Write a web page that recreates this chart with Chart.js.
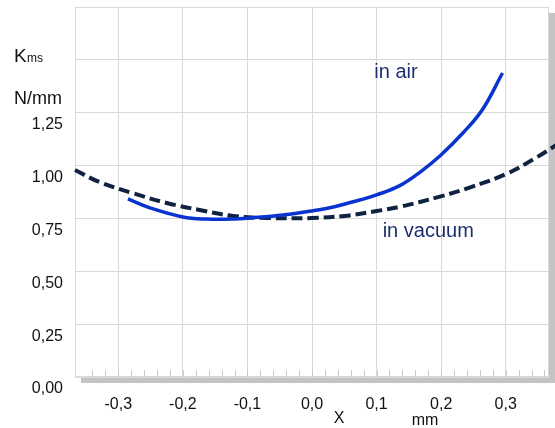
<!DOCTYPE html>
<html>
<head>
<meta charset="utf-8">
<script src="https://cdn.jsdelivr.net/npm/chart.js@4"></script>
<style>
  html, body { margin: 0; padding: 0; background: #fff; }
  #wrap { width: 555px; height: 428px; }
</style>
</head>
<body>
<div id="wrap"><canvas id="kmsChart"></canvas></div>
<script>
// values
const airX = [-0.285, -0.251, -0.2, -0.163, -0.122, -0.096, -0.045, 0.009, 0.033, 0.074, 0.1, 0.136, 0.167, 0.198, 0.234, 0.264, 0.295];
const airY = [0.842, 0.80, 0.757, 0.747, 0.747, 0.752, 0.766, 0.79, 0.804, 0.837, 0.861, 0.905, 0.968, 1.045, 1.155, 1.265, 1.438];

const vacX = [-0.367, -0.329, -0.278, -0.225, -0.174, -0.122, -0.07, 0.0, 0.05, 0.1, 0.136, 0.198, 0.245, 0.302, 0.343, 0.38];
const vacY = [0.979, 0.922, 0.870, 0.823, 0.79, 0.762, 0.752, 0.752, 0.762, 0.785, 0.805, 0.853, 0.897, 0.962, 1.03, 1.10];

const xTicks = [-0.3, -0.2, -0.1, 0.0, 0.1, 0.2, 0.3];
const xTickLabels = ['-0,3', '-0,2', '-0,1', '0,0', '0,1', '0,2', '0,3'];
const yTicks = [0, 0.25, 0.5, 0.75, 1.0, 1.25, 1.5, 1.75];
const yTickLabels = ['0,00', '0,25', '0,50', '0,75', '1,00', '1,25', '', ''];

const font = '"Liberation Sans", Arial, sans-serif';
const gridColor = '#d9d9d9';

const toPoints = (xs, ys) => xs.map((x, i) => ({ x: x, y: ys[i] }));

// drop shadow box behind the plot area + border + minor ticks
const plotBox = {
    id: 'plotBox',
    beforeDraw(chart) {
        const { ctx, chartArea: a } = chart;
        ctx.save();
        ctx.fillStyle = '#c4c4c4';
        ctx.fillRect(a.left + 6, a.top + 6, a.right - a.left, a.bottom - a.top);
        ctx.fillStyle = '#ffffff';
        ctx.fillRect(a.left, a.top, a.right - a.left, a.bottom - a.top);
        ctx.restore();
    },
    beforeDatasetsDraw(chart) {
        const { ctx, chartArea: a, scales } = chart;
        ctx.save();
        ctx.strokeStyle = gridColor;
        ctx.lineWidth = 1;
        ctx.strokeRect(a.left + 0.5, a.top + 0.5, a.right - a.left - 1, a.bottom - a.top - 1);
        // small ticks along the bottom, every 0.02
        ctx.strokeStyle = '#c8c8c8';
        ctx.beginPath();
        for (let k = -17; k <= 18; k++) {
            const px = Math.round(scales.x.getPixelForValue(k * 0.02)) + 0.5;
            ctx.moveTo(px, a.bottom);
            ctx.lineTo(px, a.bottom - 7);
        }
        ctx.stroke();
        ctx.restore();
    },
    afterDatasetsDraw(chart) {
        const { ctx, scales } = chart;
        ctx.save();
        ctx.textAlign = 'center';
        ctx.textBaseline = 'middle';
        ctx.fillStyle = '#1c2f6e';
        ctx.font = '20px ' + font;
        ctx.fillText('in air', scales.x.getPixelForValue(0.13), scales.y.getPixelForValue(1.438));
        ctx.fillText('in vacuum', scales.x.getPixelForValue(0.18), scales.y.getPixelForValue(0.686));

        ctx.fillStyle = '#111';
        ctx.textAlign = 'left';
        ctx.textBaseline = 'alphabetic';
        ctx.font = '19px ' + font;
        ctx.fillText('K', 14, 62);
        ctx.font = '12px ' + font;
        ctx.fillText('ms', 27, 62);
        ctx.font = '18px ' + font;
        ctx.fillText('N/mm', 14, 104);

        ctx.font = '16px ' + font;
        ctx.textAlign = 'center';
        ctx.fillText('X', 339, 423);
        ctx.fillText('mm', 425, 425);
        ctx.restore();
    }
};

new Chart(document.getElementById('kmsChart'), {
    type: 'line',
    data: {
        datasets: [
            {
                label: 'in air',
                data: toPoints(airX, airY),
                borderColor: '#0a34cf',
                borderWidth: 3.5,
                pointRadius: 0,
                tension: 0.4,
                fill: false,
            },
            {
                label: 'in vacuum',
                data: toPoints(vacX, vacY),
                borderColor: '#0f2340',
                borderWidth: 4,
                borderDash: [11, 5],
                pointRadius: 0,
                tension: 0.4,
                fill: false,
                clip: false,
            },
        ]
    },
    options: {
        responsive: true,
        maintainAspectRatio: false,
        animation: false,
        layout: { padding: { top: 7, right: 6, left: 0, bottom: 0 } },
        plugins: {
            legend: { display: false },
            tooltip: { enabled: false },
        },
        scales: {
            x: {
                type: 'linear',
                min: -0.367,
                max: 0.367,
                afterBuildTicks: (scale) => { scale.ticks = xTicks.map(v => ({ value: v })); },
                afterFit: (scale) => {
                    scale.height = 51;
                    scale.paddingLeft = 0;
                    scale.paddingRight = 0;
                },
                grid: { color: gridColor, drawTicks: false },
                border: { display: false },
                ticks: {
                    padding: 18,
                    color: '#111',
                    font: { family: font, size: 16 },
                    callback: (v, i) => xTickLabels[i],
                },
            },
            y: {
                type: 'linear',
                min: 0,
                max: 1.75,
                afterBuildTicks: (scale) => { scale.ticks = yTicks.map(v => ({ value: v })); },
                afterFit: (scale) => {
                    scale.width = 75;
                    scale.paddingTop = 0;
                    scale.paddingBottom = 0;
                },
                grid: { color: gridColor, drawTicks: false },
                border: { display: false },
                ticks: {
                    padding: 12,
                    labelOffset: 12,
                    color: '#111',
                    font: { family: font, size: 16 },
                    callback: (v, i) => yTickLabels[i],
                },
            },
        },
    },
    plugins: [plotBox],
});
</script>
</body>
</html>
